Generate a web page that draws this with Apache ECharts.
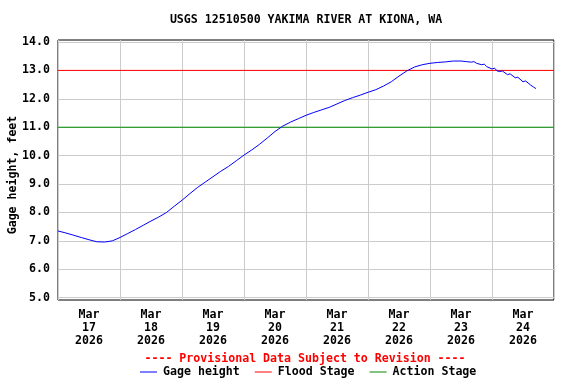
<!DOCTYPE html>
<html>
<head>
<meta charset="utf-8">
<script src="https://cdn.jsdelivr.net/npm/echarts@6/dist/echarts.min.js"></script>
<style>
html,body{margin:0;padding:0;background:#fff;}
#chart{width:576px;height:384px;}
</style>
</head>
<body>
<div id="chart"></div>
<script>
// Hours since 2026-03-17 00:00
const hours = [0,3,6,9,12,15,18,21,24,27,30,33,36,39,42,45,48,51,54,57,60,63,66,69,72,75,78,81,84,87,90,93,96,99,102,105,108,111,114,117,120,123,126,129,132,135,138,141,144,147,150,153,156,158,160,161,162,164,165,166,168,169,170,171,172,174,175,177,178,180,181,183,184,185];
const gageHeight = [7.35,7.28,7.20,7.12,7.04,6.97,6.96,7.00,7.12,7.26,7.40,7.55,7.70,7.84,8.00,8.22,8.43,8.66,8.88,9.07,9.26,9.45,9.62,9.82,10.02,10.20,10.40,10.62,10.85,11.04,11.18,11.30,11.42,11.52,11.61,11.70,11.82,11.94,12.04,12.13,12.23,12.32,12.45,12.60,12.80,12.98,13.12,13.20,13.25,13.28,13.30,13.33,13.33,13.31,13.29,13.31,13.25,13.20,13.22,13.13,13.05,13.08,12.98,12.96,12.98,12.85,12.88,12.74,12.76,12.60,12.63,12.48,12.42,12.36];
const floodStage = 13.0;
const actionStage = 11.0;
const dayMonth = 'Mar';
const dayNumbers = ['17','18','19','20','21','22','23','24'];
const dayYear = '2026';
const yTicks = [5,6,7,8,9,10,11,12,13,14];
const titleText = 'USGS 12510500 YAKIMA RIVER AT KIONA, WA';
const provisionalText = '---- Provisional Data Subject to Revision ----';
const yAxisName = 'Gage height, feet';

const dayStarts = dayNumbers.map((d,i)=>i*24).concat([dayNumbers.length*24]);
const dayNoons = dayNumbers.map((d,i)=>i*24+12);
const xMax = dayNumbers.length*24;

const FONT = 'DejaVu Sans Mono';
const FS = 11.6;
const txt = {fontFamily: FONT, fontSize: FS, fontWeight: 'bold', color: '#000'};

const chart = echarts.init(document.getElementById('chart'), null, {renderer:'canvas'});
chart.setOption({
  animation: false,
  backgroundColor: '#fff',
  title: [
    {text: titleText, left: 306, top: 13.5, padding: 0, textAlign: 'center', textStyle: Object.assign({}, txt)},
    {text: provisionalText, left: 305, top: 352.5, padding: 0, textAlign: 'center', textStyle: Object.assign({}, txt, {color:'#ff0000'})}
  ],
  grid: {left: 58, top: 40, width: 496, height: 260, show: true, borderColor: '#000', borderWidth: 1, backgroundColor: '#fff', containLabel: false, outerBoundsMode: 'none'},
  legend: {
    left: 140, top: 366, padding: 0, itemWidth: 17, itemHeight: 1, itemGap: 15, icon: 'rect',
    textStyle: Object.assign({}, txt, {padding: [0,0,0,1]}),
    data: ['Gage height','Flood Stage','Action Stage']
  },
  xAxis: {
    type: 'value', min: 0, max: xMax,
    axisLine: {show: false},
    axisTick: {show: false, customValues: dayStarts},
    splitLine: {show: true, lineStyle: {color: '#cccccc', width: 1}},
    axisLabel: {
      customValues: dayNoons, margin: 8, lineHeight: 13,
      fontFamily: FONT, fontSize: FS, fontWeight: 'bold', color: '#000',
      formatter: function(v){ const i = Math.round((v-12)/24); return dayMonth + '\n' + dayNumbers[i] + '\n' + dayYear; }
    }
  },
  yAxis: {
    type: 'value', min: 4.92, max: 14.07,
    name: yAxisName, nameLocation: 'middle', nameRotate: 90, nameGap: 39, nameMoveOverlap: false,
    nameTextStyle: Object.assign({}, txt, {padding:[0,10,0,0]}),
    axisLine: {show: false},
    axisTick: {show: false, customValues: yTicks},
    splitLine: {show: true, lineStyle: {color: '#cccccc', width: 1}},
    axisLabel: {
      customValues: yTicks, margin: 8,
      fontFamily: FONT, fontSize: FS, fontWeight: 'bold', color: '#000',
      formatter: function(v){ return v.toFixed(1); }
    }
  },
  series: [
    {name: 'Gage height', type: 'line', symbol: 'none', z: 5,
     lineStyle: {color: '#0000ff', width: 1}, itemStyle: {color: '#0000ff'},
     data: hours.map((h,i)=>[h, gageHeight[i]])},
    {name: 'Flood Stage', type: 'line', symbol: 'none', z: 4,
     lineStyle: {color: '#ff0000', width: 1}, itemStyle: {color: '#ff0000'},
     data: [[0, floodStage],[xMax, floodStage]]},
    {name: 'Action Stage', type: 'line', symbol: 'none', z: 4,
     lineStyle: {color: '#008800', width: 1}, itemStyle: {color: '#008800'},
     data: [[0, actionStage],[xMax, actionStage]]}
  ]
});
</script>
</body>
</html>
